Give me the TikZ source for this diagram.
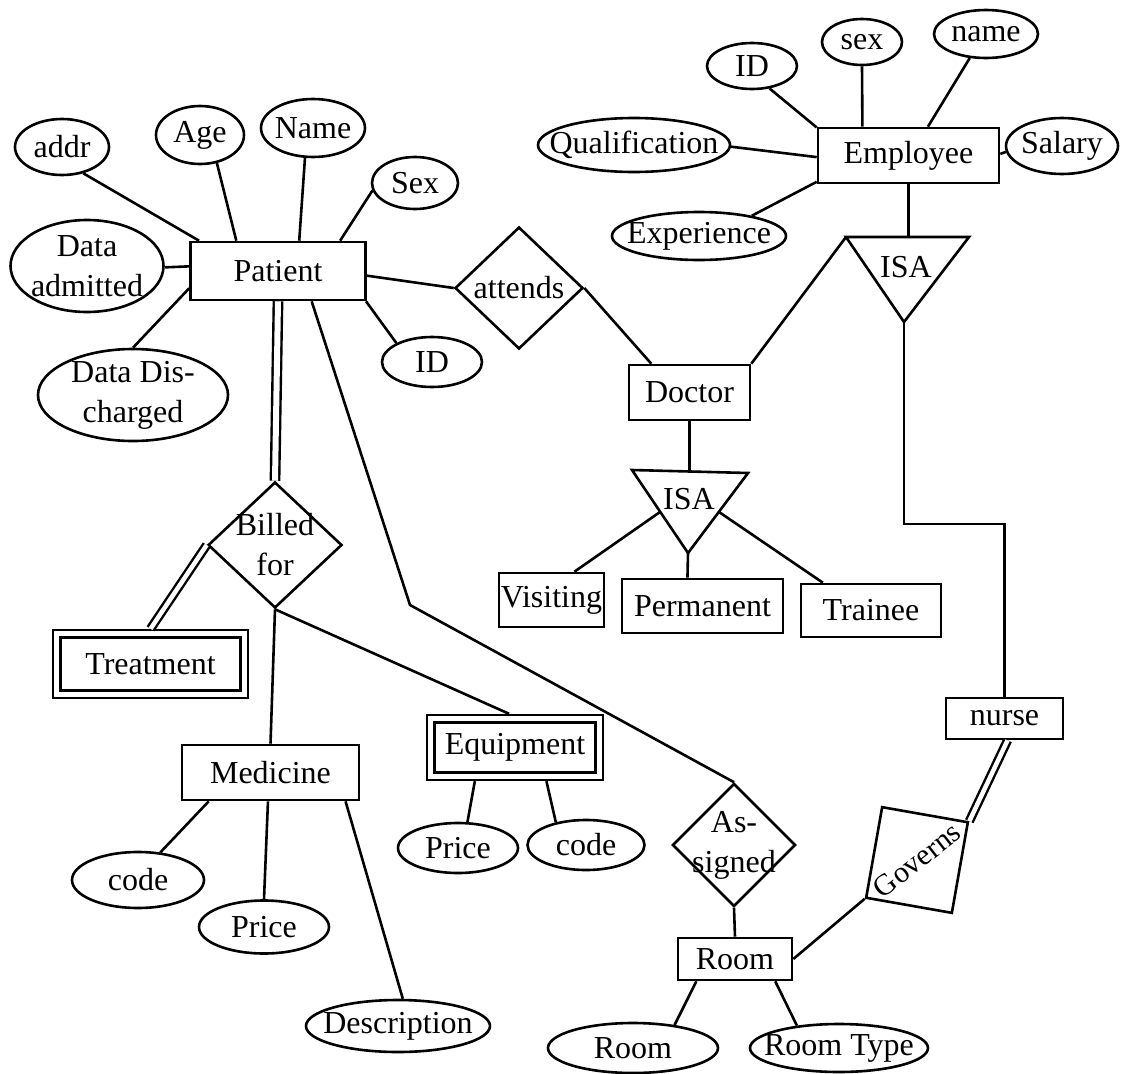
\documentclass[tikz,border=0pt]{standalone}
\usepackage{fontspec}
\setmainfont{Liberation Serif}
\usetikzlibrary{shapes.geometric,calc}
\begin{document}
\begin{tikzpicture}[x=1pt,y=-1pt,line width=2.6pt,
  every node/.style={font=\fontsize{32}{40}\selectfont},
  entity/.style={draw,rectangle,inner sep=0pt},
  weak/.style={draw,rectangle,inner sep=0pt,double,double distance=5pt,line width=2.4pt,outer sep=4.9pt},
  attr/.style={draw,ellipse,inner sep=-150pt,align=center},
  rel/.style={draw,diamond,inner sep=-150pt,align=center},
  total/.style={double,double distance=4.5pt,line width=2.4pt},
  totalwide/.style={double,double distance=6pt,line width=2.4pt},
]
\fill[white] (0,0) rectangle (1125,1074);
\useasboundingbox (0,0) rectangle (1125,1074);

% ---------- Patient and its attributes ----------
\node[entity, minimum width=175pt, minimum height=58pt] (patient) at (278,271) {Patient};
\node[attr, minimum width=94pt, minimum height=56pt] (addr) at (62,147) {addr};
\node[attr, minimum width=88pt, minimum height=58pt] (age) at (200,135) {Age};
\node[attr, minimum width=104pt, minimum height=58pt] (pname) at (313,128) {Name};
\node[attr, minimum width=86pt, minimum height=52pt] (psex) at (415,183) {Sex};
\node[attr, minimum width=153pt, minimum height=92pt] (dadm) at (87,266) {Data\\admitted};
\node[attr, minimum width=190pt, minimum height=92pt] (ddis) at (133,395) {Data Dis-\\charged};
\node[attr, minimum width=100pt, minimum height=50pt] (pid) at (432,362) {ID};

\draw (addr.-51) -- (patient.159.6);
\draw (age.-59) -- (patient.144.7);
\draw (pname.-105) -- (patient.55.4);
\draw (psex.190) -- (patient.26.2);
\draw (dadm.-1.5) -- (patient.177.4);
\draw (ddis.north) -- (patient.191);
\draw (pid.152.8) -- (patient.-19);

% ---------- attends / Doctor ----------
\node[rel, minimum width=128pt, minimum height=122pt] (attends) at (519,288) {attends};
\node[entity, minimum width=121pt, minimum height=55pt] (doctor) at (689.5,392.5) {Doctor};
\draw (patient.-3.9) -- (attends.west);
\draw (attends.east) -- (doctor.143.7);

% ---------- Employee and its attributes ----------
\node[entity, minimum width=181pt, minimum height=55pt] (emp) at (908.5,155.5) {Employee};
\node[attr, minimum width=90pt, minimum height=46pt] (eid) at (752,66) {ID};
\node[attr, minimum width=80pt, minimum height=46pt] (esex) at (862,42) {sex};
\node[attr, minimum width=104pt, minimum height=48pt] (ename) at (986,34) {name};
\node[attr, minimum width=192pt, minimum height=54pt] (qual) at (634,145) {Qualification};
\node[attr, minimum width=112pt, minimum height=56pt] (salary) at (1062,146) {Salary};
\node[attr, minimum width=174pt, minimum height=48pt] (exper) at (699,236) {Experience};

\draw (eid.-52.7) -- (emp.163);
\draw (esex.south) -- (emp.148.9);
\draw (ename.-124) -- (emp.56);
\draw (qual.-1.8) -- (emp.181.6);
\draw (salary.186) -- (emp.1);
\draw (exper.21.6) -- (emp.196.3);

% ISA triangle below Employee
\coordinate (isaEtl) at (846,237);
\coordinate (isaEtr) at (969,237);
\coordinate (isaEb) at (904,322);
\coordinate (isaEtop) at (908.5,237);
\draw (isaEtl) -- (isaEtr) -- (isaEb) -- cycle;
\node (isaE) at (906,267) {ISA};
\draw (emp.south) -- (isaEtop);
\draw (doctor.north east) -- (isaEtl);

% ---------- Doctor specialisation ----------
\coordinate (isaDtl) at (632,470);
\coordinate (isaDtr) at (748,473);
\coordinate (isaDb) at (688,553);
\coordinate (isaDtop) at (689.5,471);
\coordinate (isaDl) at (660,512);
\coordinate (isaDr) at (719,512);
\draw (isaDtl) -- (isaDtr) -- (isaDb) -- cycle;
\node (isaD) at (689,499) {ISA};
\node[entity, minimum width=105pt, minimum height=54pt] (visiting) at (551.5,600) {Visiting};
\node[entity, minimum width=161pt, minimum height=54pt] (permanent) at (702.5,606) {Permanent};
\node[entity, minimum width=140pt, minimum height=53pt] (trainee) at (871,610.5) {Trainee};
\draw (doctor.south) -- (isaDtop);
\draw (isaDl) -- (visiting.51.5);
\draw (isaDb) -- (permanent.118.2);
\draw (isaDr) -- (trainee.150);

% ---------- nurse, Governs, Room ----------
\node[entity, minimum width=117pt, minimum height=41pt] (nurse) at (1004.5,718.5) {nurse};
\coordinate (turn) at (1004.5,524);
\draw (isaEb) |- (turn) -- (nurse.north);

\node[entity, minimum width=87pt, minimum height=92pt, rotate=-10] (governs) at (917,860) {};
\node[rotate=38, font=\fontsize{30}{36}\selectfont] (govlabel) at (governs.center) {Governs};
\node[rel, minimum width=123pt, minimum height=123pt] (assigned) at (734,845) {As-\\signed};
\node[entity, minimum width=114pt, minimum height=42pt] (room) at (735,959) {Room};
\node[attr, minimum width=170pt, minimum height=50pt] (roomno) at (633,1048) {Room};
\node[attr, minimum width=178pt, minimum height=48pt] (roomtype) at (839,1048) {Room Type};

\draw[total] (nurse.-82) -- (governs.north east);
\draw (governs.south west) -- (room.east);
\draw (assigned.south) -- (room.north);
\draw (room.-150.4) -- (roomno.29);
\draw (room.-29.6) -- (roomtype.152);

\coordinate (bendA) at (410,605);
\draw (patient.-42.2) -- (bendA) -- (assigned.north);

% ---------- Billed for ----------
\node[rel, minimum width=134pt, minimum height=126pt] (billed) at (275,545) {Billed\\for};
\node[weak, minimum width=187.6pt, minimum height=60.6pt] (treatment) at (150.5,664) {Treatment};
\node[entity, minimum width=177pt, minimum height=55pt] (medicine) at (270.5,772.5) {Medicine};
\node[weak, minimum width=168.6pt, minimum height=57.6pt] (equipment) at (515,747.5) {Equipment};

\draw[totalwide] (patient.south) -- (billed.north);
\draw[total] (billed.west) -- (treatment.north);
\draw (billed.south) -- (medicine.north);
\draw (billed.south) -- (equipment.100);

% Medicine attributes
\node[attr, minimum width=132pt, minimum height=56pt] (mcode) at (138,880) {code};
\node[attr, minimum width=130pt, minimum height=53pt] (mprice) at (264,927) {Price};
\node[attr, minimum width=184pt, minimum height=52pt] (mdesc) at (398,1026) {Description};
\draw (medicine.205.2) -- (mcode.51.3);
\draw (medicine.-95) -- (mprice.north);
\draw (medicine.-21.6) -- (mdesc.80);

% Equipment attributes
\node[attr, minimum width=120pt, minimum height=50pt] (eprice) at (458,848) {Price};
\node[attr, minimum width=117pt, minimum height=50pt] (ecode) at (586,845) {code};
\draw (equipment.-140) -- (eprice.70);
\draw (equipment.-47) -- (ecode.143.4);
\end{tikzpicture}
\end{document}
